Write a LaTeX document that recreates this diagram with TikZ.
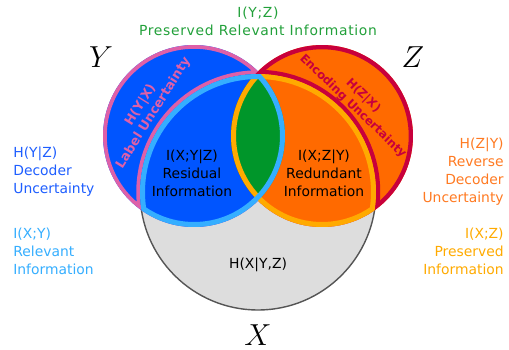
\documentclass[tikz,border=0pt]{standalone}
\usepackage{fontspec}
\setmainfont{DejaVu Sans}
\usepackage{tikz}
\usetikzlibrary{positioning}
\definecolor{yblue}{HTML}{0055FF}
\definecolor{ypink}{HTML}{DE60A8}
\definecolor{zorange}{HTML}{FF6A00}
\definecolor{zcrimson}{HTML}{C8003C}
\definecolor{xylight}{HTML}{35AEFF}
\definecolor{xzgold}{HTML}{FFAA00}
\definecolor{yzgreen}{HTML}{00962A}
\definecolor{txtblue}{HTML}{1E5EFF}
\definecolor{txtgreen}{HTML}{22A03A}
\definecolor{txtorange}{HTML}{FF7A22}
\definecolor{xgray}{HTML}{DDDDDD}
\definecolor{xedge}{HTML}{555555}
\tikzset{lbl/.style = {font=\fontsize{7.9}{10.2}\selectfont, inner sep=0pt, align=center}}
\tikzset{arclbl/.style = {inner sep=0pt, align=center}}
\tikzset{setname/.style = {font=\fontsize{18}{18}\selectfont, inner sep=0pt}}

\begin{document}
\begin{tikzpicture}[x=0.02cm, y=-0.02cm, every node/.style = lbl]
            \useasboundingbox (0,0) rectangle (509,349);
            \coordinate (cX) at (258,192);
            \coordinate (cY) at (194,136);
            \coordinate (cZ) at (322,136);

            \filldraw [fill=xgray, draw=xedge, line width=0.8pt] (cX) circle (2.36cm);
            \fill [yblue]   (cY) circle (1.82cm);
            \fill [zorange] (cZ) circle (1.82cm);
            \begin{scope}
                \clip (cY) circle (1.82cm);
                \clip (cZ) circle (1.82cm);
                \fill [yzgreen] (cX) circle (2.36cm);
            \end{scope}

            \begin{scope}[even odd rule]
                \clip (cY) circle (1.82cm);
                \clip (cY) circle (1.82cm) (cX) circle (2.36cm);
                \draw [ypink, line width=0.15cm] (cY) circle (1.82cm) (cX) circle (2.36cm);
            \end{scope}
            \begin{scope}[even odd rule]
                \clip (cZ) circle (1.82cm);
                \clip (cZ) circle (1.82cm) (cX) circle (2.36cm);
                \draw [zcrimson, line width=0.17cm] (cZ) circle (1.82cm) (cX) circle (2.36cm);
            \end{scope}
            \begin{scope}
                \clip (cX) circle (2.36cm);
                \clip (cZ) circle (1.82cm);
                \draw [xzgold, line width=0.2cm] (cZ) circle (1.82cm) (cX) circle (2.36cm);
            \end{scope}
            \begin{scope}
                \clip (cX) circle (2.36cm);
                \clip (cY) circle (1.82cm);
                \draw [xylight, line width=0.2cm] (cY) circle (1.82cm) (cX) circle (2.36cm);
            \end{scope}

            \node [text=txtgreen, font=\fontsize{7.9}{10.2}\selectfont\addfontfeature{LetterSpace=5}] (yz) at (258,21) {I(Y;Z)\\Preserved Relevant Information};

            \node [setname] (Y) at (101,57)  {$Y$};
            \node [setname] (Z) at (413,57)  {$Z$};
            \node [setname] (X) at (258,335) {$X$};

            \node [text=txtblue, align=left, anchor=west]    (hyz) at (13,172)  {H(Y|Z)\\Decoder\\Uncertainty};
            \node [text=xylight, align=left, anchor=west]    (ixy) at (13,251)  {I(X;Y)\\Relevant\\Information};
            \node [text=txtorange, align=right, anchor=east] (hzy) at (504,172) {H(Z|Y)\\Reverse\\Decoder\\Uncertainty};
            \node [text=xzgold, align=right, anchor=east]    (ixz) at (504,251) {I(X;Z)\\Preserved\\Information};

            \node (ixyz) at (192,173) {I(X;Y|Z)\\Residual\\Information};
            \node (ixzy) at (324,173) {I(X;Z|Y)\\Redundant\\Information};
            \node (hxyz) at (258,265) {H(X|Y,Z)};

            \node [arclbl, text=ypink, rotate=58, font=\fontsize{7.3}{8.6}\selectfont\bfseries]      (hyx) at (147,109) {H(Y|X)\\Label Uncertainty};
            \node [arclbl, text=zcrimson, rotate=-44, font=\fontsize{6.7}{8.4}\selectfont\bfseries]  (hzx) at (358,101) {H(Z|X)\\Encoding Uncertainty};
        \end{tikzpicture}
\end{document}
